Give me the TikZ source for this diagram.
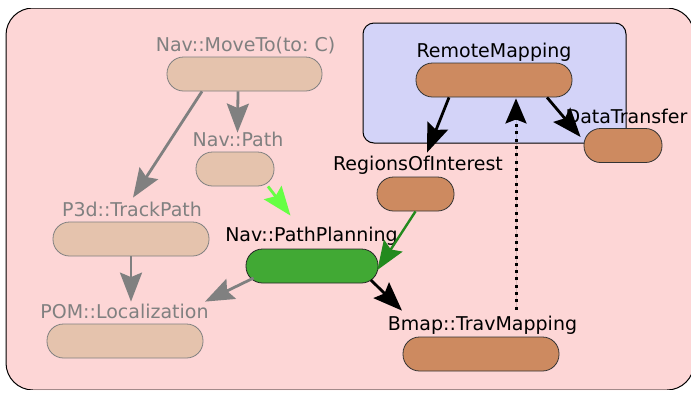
\documentclass[tikz,border=0pt]{standalone}
\usepackage{fontspec}
\setmainfont{DejaVu Sans}
\usetikzlibrary{arrows.meta}
\frenchspacing

\definecolor{pinkbg}{HTML}{FDD6D6}
\definecolor{bluebg}{HTML}{D3D3F8}
\definecolor{tanfill}{HTML}{E5C3AD}
\definecolor{brownfill}{HTML}{CD8A60}
\definecolor{greenfill}{HTML}{41A934}
\definecolor{greyink}{HTML}{808080}
\definecolor{lightgreen}{HTML}{66FF44}
\definecolor{darkgreen}{HTML}{238A1E}
\definecolor{softgreen}{HTML}{6AD464}

\tikzset{
  pill/.style={rectangle, rounded corners=16.5pt, minimum height=34pt,
    inner sep=0pt, line width=0.8pt},
  inactive/.style={pill, fill=tanfill, draw=greyink},
  active/.style={pill, fill=brownfill, draw=black!80},
  running/.style={pill, fill=greenfill, draw=black!85},
  caption/.style={anchor=base, inner sep=0pt,
    font=\fontsize{19pt}{22pt}\selectfont},
  greycaption/.style={caption, text=greyink},
  head/.style={-{Stealth[length=29pt,width=22pt,inset=4.5pt]}},
  smallhead/.style={-{Stealth[length=25pt,width=21pt,inset=4pt]}},
  link/.style={head, line width=2.8pt},
  greylink/.style={link, draw=greyink, fill=greyink},
  blacklink/.style={link, draw=black, fill=black},
}

\begin{document}
\begin{tikzpicture}[x=1pt, y=-1pt]
\useasboundingbox (0,0) rectangle (691,392);

% containers
\fill[pinkbg, rounded corners=27pt] (6,8) rectangle (694,390);
\begin{scope}
  \clip (0,8.7) rectangle (691,389.3);
  \draw[line width=1pt, rounded corners=27pt] (6,8) rectangle (694,390);
\end{scope}
\draw[fill=bluebg, line width=1pt, rounded corners=11pt] (363,23) rectangle (626,143);

% task boxes
\node[inactive, minimum width=155pt] (move) at (244.5,74) {};
\node[inactive, minimum width=78pt]  (path) at (235,169) {};
\node[inactive, minimum width=156pt] (p3d)  at (131,239) {};
\node[inactive, minimum width=156pt] (pom)  at (125,341) {};
\node[running,  minimum width=132pt] (plan) at (312,266) {};
\node[active,   minimum width=156pt] (bmap) at (481,354) {};
\node[active,   minimum width=156pt] (remote) at (494,80) {};
\node[active,   minimum width=77pt]  (roi)  at (415.5,194) {};
\node[active,   minimum width=78pt]  (dt)   at (623,145.5) {};

% task names
\node[greycaption] (moveL)   at (245.5,51)  {Nav::MoveTo(to: C)};
\node[greycaption] (pathL)   at (238,146)   {Nav::Path};
\node[greycaption] (p3dL)    at (132,216)   {P3d::TrackPath};
\node[greycaption] (pomL)    at (124.5,318) {POM::Localization};
\node[caption]     (planL)   at (311.5,241) {Nav::PathPlanning};
\node[caption]     (bmapL)   at (482.5,330) {Bmap::TravMapping};
\node[caption]     (remoteL) at (494,57)    {RemoteMapping};
\node[caption]     (roiL)    at (418,170)   {RegionsOfInterest};
\node[caption]     (dtL)     at (626.5,123) {DataTransfer};

% dependencies
\draw[greylink] ([xshift=-42.5pt]move.south) -- ([xshift=2pt, yshift=24pt]p3d.north);
\draw[greylink] ([xshift=-6.5pt]move.south) -- ([xshift=2.5pt, yshift=19pt]path.north);
\draw[greylink] (p3d.south) -- ([xshift=6pt, yshift=22pt]pom.north);
\draw[greylink] ([xshift=8pt, yshift=-12pt]plan.west) -- ([xshift=80pt, yshift=22pt]pom.north);
\draw[link, draw=lightgreen, fill=lightgreen] ([xshift=33pt]path.south)
  -- ([xshift=-21.5pt, yshift=33pt]plan.north);
\draw[link, line width=2.4pt, draw=darkgreen, fill=softgreen] (roi.south)
  -- ([xshift=-1pt, yshift=-4pt]plan.east);
\draw[blacklink] ([xshift=-7.5pt, yshift=-14pt]plan.east) -- ([xshift=-79pt, yshift=26pt]bmap.north);
\draw[blacklink] ([xshift=-45pt]remote.south) -- ([xshift=11.5pt, yshift=24pt]roi.north);
\draw[blacklink] ([xshift=53pt]remote.south) -- ([xshift=-3pt, yshift=8.5pt]dt.west);
\draw[smallhead, line width=3pt, dash pattern=on 3pt off 4.3pt, fill=black]
  ([xshift=35pt, yshift=27pt]bmap.north) -- ([xshift=22pt, yshift=-1pt]remote.south);
\end{tikzpicture}
\end{document}
